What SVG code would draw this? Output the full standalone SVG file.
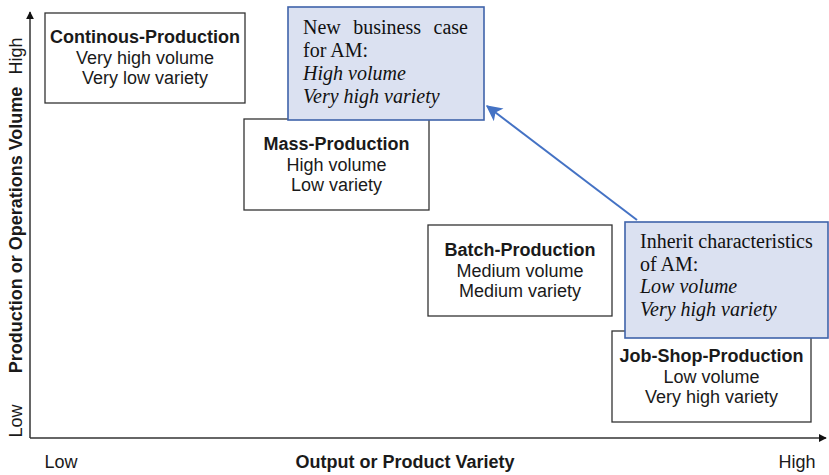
<svg xmlns="http://www.w3.org/2000/svg" width="829" height="475" viewBox="0 0 829 475">
  <defs>
    <style>
      .box { fill: #ffffff; stroke: #333333; stroke-width: 1.3; }
      .note { fill: #dbe1f1; stroke: #3f63aa; stroke-width: 1.6; }
      .sans { font-family: "Liberation Sans", Arial, sans-serif; font-size: 18px; fill: #1a1a1a; }
      .b { font-weight: bold; }
      .serif { font-family: "Liberation Serif", "Times New Roman", serif; font-size: 20px; fill: #111111; }
      .it { font-style: italic; }
      .axis { stroke: #333333; stroke-width: 1.5; fill: none; }
      .link { stroke: #4472c4; stroke-width: 2; fill: none; }
    </style>
    <marker id="axisHead" viewBox="0 0 10 10" refX="9" refY="5" markerWidth="8" markerHeight="8" markerUnits="userSpaceOnUse" orient="auto">
      <path d="M0,0 L10,5 L0,10 Z" fill="#111111"/>
    </marker>
    <marker id="blueHead" viewBox="0 0 12 12" refX="11" refY="6" markerWidth="16" markerHeight="16" markerUnits="userSpaceOnUse" orient="auto">
      <path d="M0,0 L12,6 L0,12 L3,6 Z" fill="#4472c4"/>
    </marker>
  </defs>

  <!-- axes -->
  <g id="axes">
    <line class="axis" x1="30" y1="438" x2="30" y2="12" marker-end="url(#axisHead)"/>
    <line class="axis" x1="30" y1="438" x2="826" y2="438" marker-end="url(#axisHead)"/>
    <text class="sans" x="61" y="468" text-anchor="middle">Low</text>
    <text class="sans b" x="405" y="468" text-anchor="middle">Output or Product Variety</text>
    <text class="sans" x="797" y="468" text-anchor="middle">High</text>
    <text class="sans" transform="translate(22,56) rotate(-90)" text-anchor="middle">High</text>
    <text class="sans b" transform="translate(22,230) rotate(-90)" text-anchor="middle">Production or Operations Volume</text>
    <text class="sans" transform="translate(22,421) rotate(-90)" text-anchor="middle">Low</text>
  </g>

  <!-- production types -->
  <g id="continuous">
    <rect class="box" x="45" y="13" width="200" height="90"/>
    <text class="sans b" x="145" y="43" text-anchor="middle">Continous-Production</text>
    <text class="sans" x="145" y="63.5" text-anchor="middle">Very high volume</text>
    <text class="sans" x="145" y="84" text-anchor="middle">Very low variety</text>
  </g>

  <g id="mass">
    <rect class="box" x="244" y="119" width="185" height="91"/>
    <text class="sans b" x="336.5" y="150" text-anchor="middle">Mass-Production</text>
    <text class="sans" x="336.5" y="170.5" text-anchor="middle">High volume</text>
    <text class="sans" x="336.5" y="191" text-anchor="middle">Low variety</text>
  </g>

  <g id="batch">
    <rect class="box" x="428" y="225" width="184" height="91"/>
    <text class="sans b" x="520" y="256" text-anchor="middle">Batch-Production</text>
    <text class="sans" x="520" y="276.5" text-anchor="middle">Medium volume</text>
    <text class="sans" x="520" y="297" text-anchor="middle">Medium variety</text>
  </g>

  <g id="jobshop">
    <rect class="box" x="612" y="331" width="199" height="91"/>
    <text class="sans b" x="711.5" y="362" text-anchor="middle">Job-Shop-Production</text>
    <text class="sans" x="711.5" y="382.5" text-anchor="middle">Low volume</text>
    <text class="sans" x="711.5" y="403" text-anchor="middle">Very high variety</text>
  </g>

  <!-- AM notes -->
  <g id="new-business">
    <rect class="note" x="288" y="7" width="196" height="113"/>
    <text class="serif" x="303" y="34" word-spacing="7.5">New business case</text>
    <text class="serif" x="303" y="57">for AM:</text>
    <text class="serif it" x="303" y="80">High volume</text>
    <text class="serif it" x="303" y="103">Very high variety</text>
  </g>

  <g id="connectors">
    <line class="link" x1="637" y1="220" x2="487" y2="106" marker-end="url(#blueHead)"/>
  </g>

  <g id="inherit">
    <rect class="note" x="625" y="222" width="203" height="116"/>
    <text class="serif" x="640" y="248">Inherit characteristics</text>
    <text class="serif" x="640" y="270.5">of AM:</text>
    <text class="serif it" x="640" y="293">Low volume</text>
    <text class="serif it" x="640" y="315.5">Very high variety</text>
  </g>
</svg>
